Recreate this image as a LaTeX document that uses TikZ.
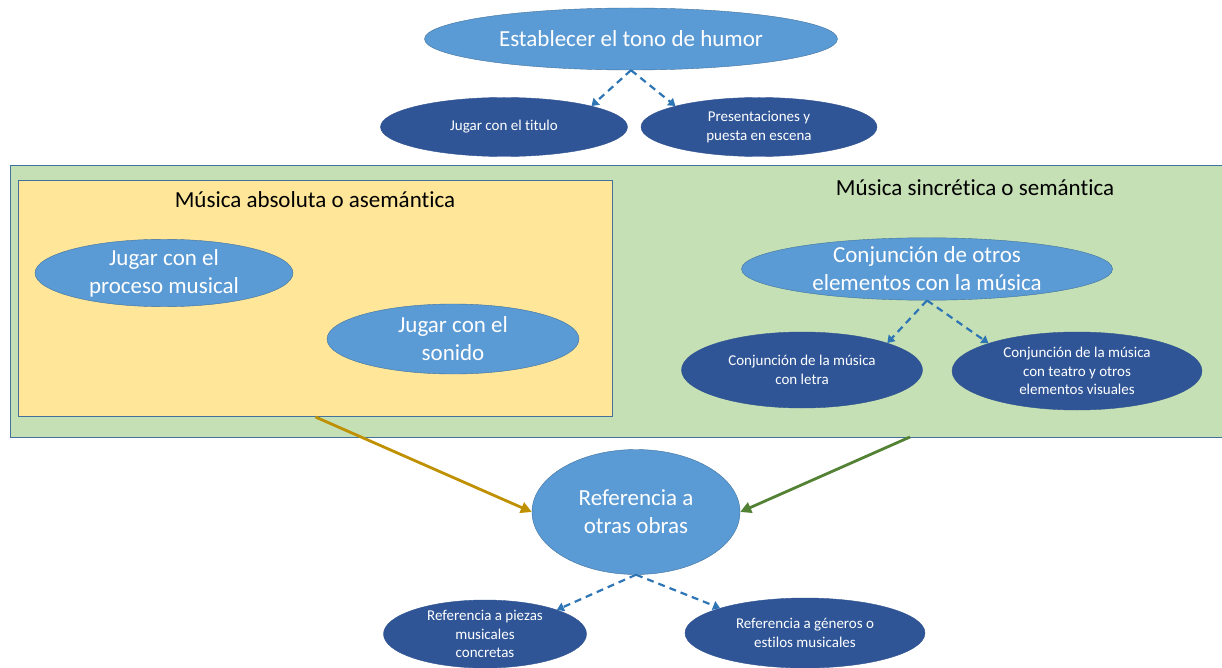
\documentclass[tikz,border=0pt]{standalone}
\usepackage{fontspec}
\setmainfont{Carlito}[Ligatures=NoCommon]
\usetikzlibrary{arrows.meta, shapes.geometric}

\definecolor{lightblue}{HTML}{5B9BD5}
\definecolor{lightblueline}{HTML}{41719C}
\definecolor{darkblue}{HTML}{2F5597}
\definecolor{darkblueline}{HTML}{2F528F}
\definecolor{greenarea}{HTML}{C5E0B4}
\definecolor{yellowarea}{HTML}{FFE699}
\definecolor{goldarrow}{HTML}{BF9000}
\definecolor{greenarrow}{HTML}{548235}
\definecolor{branchblue}{HTML}{2E75B6}

\begin{document}
\begin{tikzpicture}[x=1pt, y=-1pt,
    mainidea/.style={ellipse, draw=lightblueline, fill=lightblue, text=white, inner sep=0pt,
      align=center, font=\fontsize{23}{28}\selectfont},
    subidea/.style={ellipse, draw=darkblueline, fill=darkblue, text=white, inner sep=0pt,
      align=center, font=\fontsize{15}{18.5}\selectfont},
    area/.style={rectangle, draw=lightblueline, line width=1pt, inner sep=0pt, anchor=north west},
    heading/.style={font=\fontsize{23}{26}\selectfont},
    branch/.style={branchblue, line width=2.2pt, dash pattern=on 7pt off 5pt,
      -{Triangle[length=7pt,width=9pt]}},
    feed/.style={line width=2.8pt, -{Triangle[length=11pt,width=11pt]}}]

    \useasboundingbox (0,0) rectangle (1222,668);

    % Top idea and its two branches
    \node[mainidea, minimum width=413pt, minimum height=62pt] (tono) at (631,39) {Establecer el tono de humor};
    \node[subidea, minimum width=247pt, minimum height=59pt] (titulo) at (504,127) {Jugar con el titulo};
    \node[subidea, minimum width=236pt, minimum height=59pt] (escena) at (759,127) {Presentaciones y\\puesta en escena};

    % Green area (semantic) with the yellow area (absolute) inside
    \node[area, fill=greenarea, minimum width=1220pt, minimum height=272pt] (semantica) at (10,165) {};
    \node[area, fill=yellowarea, minimum width=594pt, minimum height=236pt] (absoluta) at (18,180) {};
    \node[heading] (abshead) at (315,200) {Música absoluta o asemántica};
    \node[heading] (semhead) at (975,188) {Música sincrética o semántica};

    \node[mainidea, minimum width=258pt, minimum height=66pt] (proceso) at (164,273) {Jugar con el\\proceso musical};
    \node[mainidea, minimum width=252pt, minimum height=70pt] (sonido) at (453,339) {Jugar con el\\sonido};

    \node[mainidea, minimum width=371pt, minimum height=62pt] (conjuncion) at (927,269) {Conjunción de otros\\elementos con la música};
    \node[subidea, minimum width=241pt, minimum height=76pt] (letra) at (802,370) {Conjunción de la música\\con letra};
    \node[subidea, minimum width=250pt, minimum height=78pt] (visual) at (1077,371) {Conjunción de la música\\con teatro y otros\\elementos visuales};

    % Bottom idea and its two branches
    \node[mainidea, minimum width=208pt, minimum height=125pt] (obras) at (636,512) {Referencia a\\otras obras};
    \node[subidea, minimum width=203pt, minimum height=68pt] (piezas) at (485,634) {Referencia a piezas\\musicales\\concretas};
    \node[subidea, minimum width=240pt, minimum height=70pt] (generos) at (805,633) {Referencia a géneros o\\estilos musicales};

    % Dashed branches
    \foreach \from/\to/\side in {tono/titulo/north east, tono/escena/north west,
        conjuncion/letra/north east, conjuncion/visual/north west,
        obras/piezas/north east, obras/generos/north west}
      \draw[branch] (\from.south) -- (\to.\side);

    % Both areas lead to the bottom idea
    \coordinate (semfoot) at (910,437);
    \draw[feed, goldarrow] (absoluta.south) -- (obras.west);
    \draw[feed, greenarrow] (semfoot) -- (obras.east);
  \end{tikzpicture}
\end{document}
